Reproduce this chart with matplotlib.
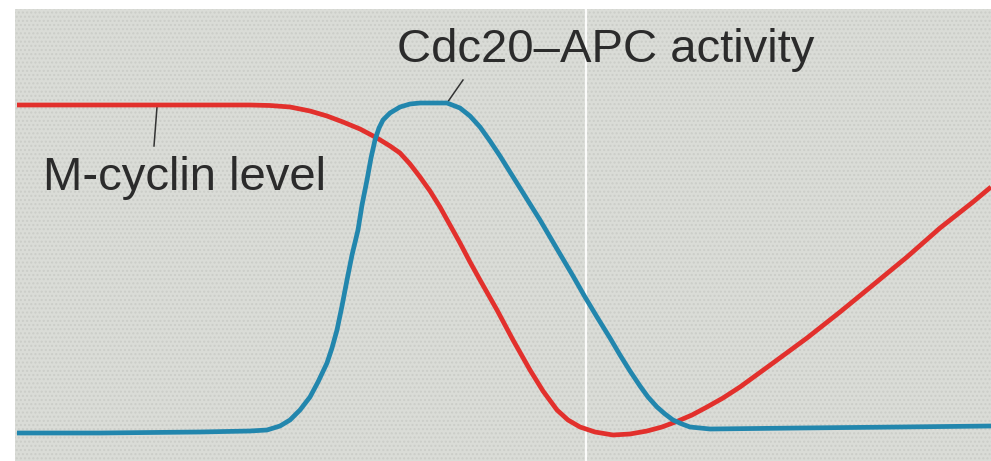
import matplotlib.pyplot as plt
from matplotlib.patches import Rectangle

# curves (x = time, y = height on the page, top = 0)
cyclin_t = [17, 100, 200, 250, 270, 290, 310, 327, 343, 360, 377, 390, 400,
            410, 420, 430, 440, 450, 460, 470, 480, 497, 513, 530, 543, 557,
            568, 580, 595, 613, 630, 647, 662, 678, 692, 707, 723, 740, 773,
            807, 840, 873, 907, 940, 973, 991]
cyclin_level = [105, 105, 105, 105, 105.5, 107, 111, 116, 122, 129, 138, 146,
                153, 164, 177, 191, 207, 225, 243, 262, 280, 310, 340, 370,
                391, 410, 420, 427, 432, 435, 434, 431, 427, 421, 415, 407,
                398, 387, 363, 338, 312, 285, 257, 228, 202, 187]

apc_t = [17, 100, 200, 250, 267, 280, 290, 300, 310, 318, 327, 332, 337, 342,
         347, 352, 358, 362, 367, 371, 375, 379, 383, 390, 400, 410, 420, 447,
         460, 470, 480, 490, 500, 510, 520, 530, 540, 550, 560, 573, 585, 597,
         610, 620, 630, 640, 648, 657, 665, 673, 682, 690, 700, 710, 800, 900,
         991]
apc_level = [433, 433, 432, 431, 430, 426, 420, 410, 397, 382, 363, 348, 330,
             306, 280, 255, 230, 205, 180, 158, 140, 128, 120, 113, 107, 104,
             103, 103, 108, 116, 127, 141, 156, 172, 188, 204, 220, 237, 254,
             276, 297, 317, 338, 355, 371, 386, 397, 407, 414, 420, 424, 427,
             428, 429, 428, 427, 426]

labels = ['M-cyclin level', 'Cdc20\u2013APC activity']

fig = plt.figure(figsize=(9.91, 4.61), dpi=100)
ax = fig.add_axes([0, 0, 1, 1])
ax.set_xlim(0, 991)
ax.set_ylim(461, 0)
ax.axis('off')

# stippled grey panel
ax.add_patch(Rectangle((15, 9), 980, 460, facecolor='#dadcd7',
                       edgecolor='#cbcdc8', hatch='....', linewidth=0, zorder=0))
ax.plot([586, 586], [9, 461], color='white', lw=1.6, alpha=0.9, zorder=1)

ax.plot(cyclin_t, cyclin_level, color='#e2302c', lw=3.4,
        solid_capstyle='butt', solid_joinstyle='round', zorder=3)
ax.plot(apc_t, apc_level, color='#2286ad', lw=3.4,
        solid_capstyle='butt', solid_joinstyle='round', zorder=3)

# labels with leader lines
ax.plot([157, 154], [107, 146], color='#333333', lw=1.1, zorder=2)
ax.plot([447, 463], [103, 80], color='#333333', lw=1.1, zorder=2)
ax.text(43, 190, labels[0], fontsize=34, family='Liberation Sans',
        color='#2b2b2b', va='baseline', ha='left')
ax.text(397, 62, labels[1], fontsize=34, family='Liberation Sans',
        color='#2b2b2b', va='baseline', ha='left')

fig.savefig('out.png', dpi=100, facecolor='white')
